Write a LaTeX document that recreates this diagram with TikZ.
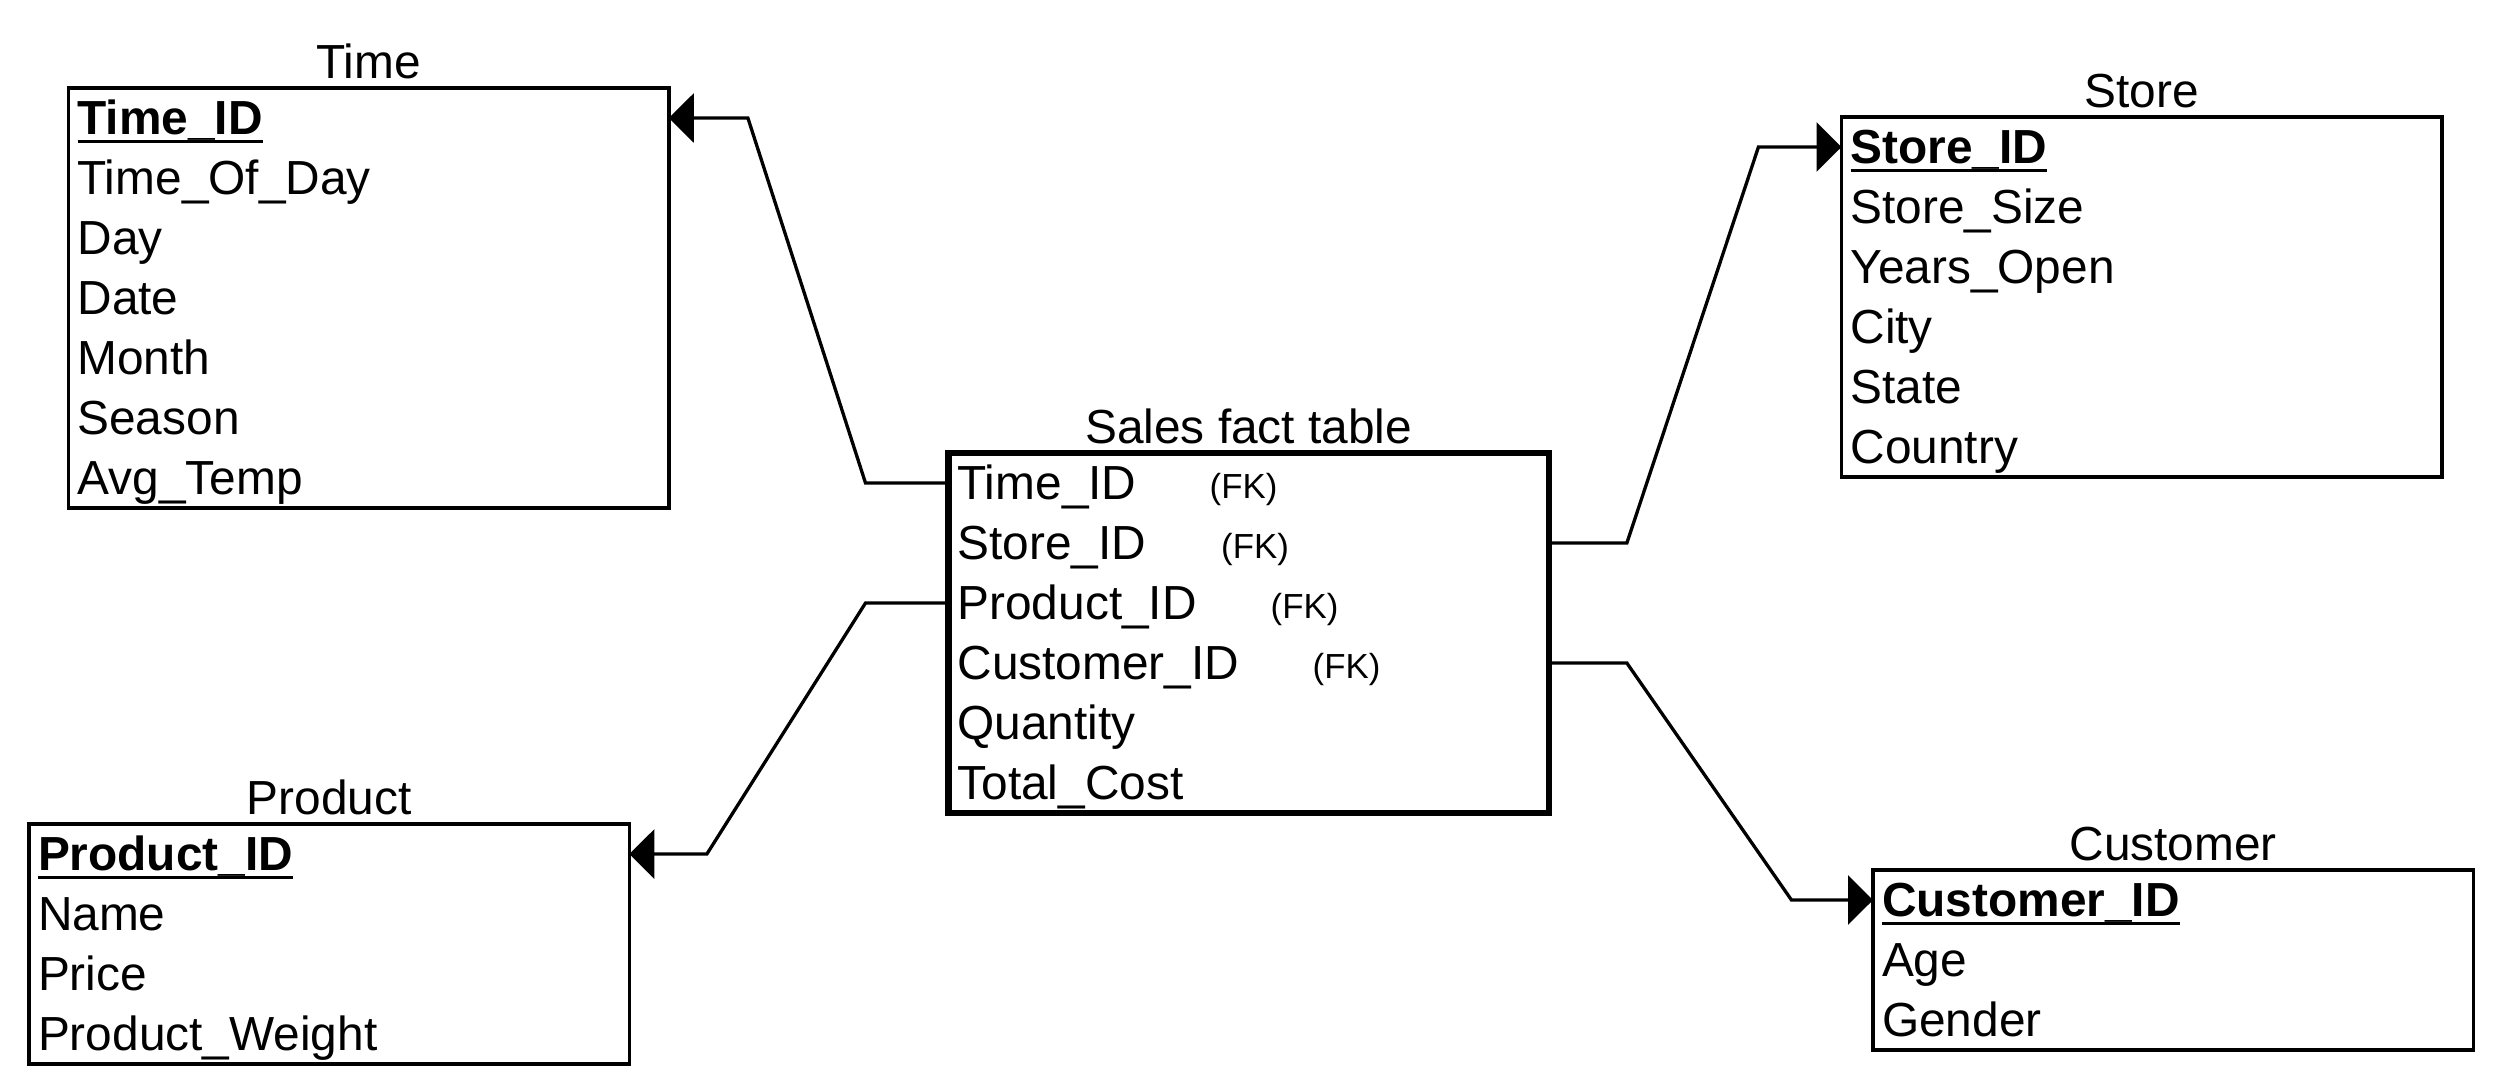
\documentclass[tikz,border=0pt]{standalone}
\usepackage{fontspec}
\setmainfont{Liberation Sans}
\usetikzlibrary{arrows.meta,fit}
\newcommand{\pkul}[1]{\setbox0\hbox{\bfseries #1}\rlap{\rule[-0.092cm]{\wd0}{0.033cm}}\box0}
\tikzset{
  erow/.style={anchor=north west, minimum width=6cm, minimum height=0.6cm,
    text width=5.82cm, align=left, inner xsep=0.09cm, inner ysep=0pt, outer sep=0pt,
    text height=0.4cm, text depth=0.08cm, font=\fontsize{13.6pt}{16pt}\selectfont},
  ebox/.style={draw=black, line width=0.033cm, inner sep=0pt, outer sep=0pt},
  factbox/.style={draw=black, line width=0.067cm, inner sep=0pt, outer sep=0pt},
  etitle/.style={anchor=base, inner sep=0pt, font=\fontsize{13.6pt}{16pt}\selectfont},
  fk/.style={anchor=base west, inner sep=0pt, font=\fontsize{9.9pt}{12pt}\selectfont},
  conn/.style={draw=black, line width=0.033cm, -{Triangle[length=0.25cm,width=0.49cm]}}
}
\begin{document}
\begin{tikzpicture}[x=0.01cm,y=-0.01cm]
\useasboundingbox (0,0) rectangle (2500,1092);
% Time
\node[erow] (t1) at (68.5,88) {\pkul{Time\_ID}};
\node[erow] (t2) at (68.5,148) {Time\_Of\_Day};
\node[erow] (t3) at (68.5,208) {Day};
\node[erow] (t4) at (68.5,268) {Date};
\node[erow] (t5) at (68.5,328) {Month};
\node[erow] (t6) at (68.5,388) {Season};
\node[erow] (t7) at (68.5,448) {Avg\_Temp};
\node[ebox, fit=(t1)(t7)] (timebox) {};
\node[etitle] (timetitle) at ([yshift=0.09cm]timebox.north) {Time};
% Store
\node[erow] (st1) at (1841.5,117) {\pkul{Store\_ID}};
\node[erow] (st2) at (1841.5,177) {Store\_Size};
\node[erow] (st3) at (1841.5,237) {Years\_Open};
\node[erow] (st4) at (1841.5,297) {City};
\node[erow] (st5) at (1841.5,357) {State};
\node[erow] (st6) at (1841.5,417) {Country};
\node[ebox, fit=(st1)(st6)] (storebox) {};
\node[etitle] (storetitle) at ([yshift=0.09cm]storebox.north) {Store};
% Sales
\node[erow] (s1) at (948.5,453) {Time\_ID};
\node[erow] (s2) at (948.5,513) {Store\_ID};
\node[erow] (s3) at (948.5,573) {Product\_ID};
\node[erow] (s4) at (948.5,633) {Customer\_ID};
\node[erow] (s5) at (948.5,693) {Quantity};
\node[erow] (s6) at (948.5,753) {Total\_Cost};
\node[factbox, fit=(s1)(s6)] (salesbox) {};
\node[etitle] (salestitle) at ([yshift=0.09cm]salesbox.north) {Sales fact table};
\node[fk] (fk1) at (1209,499) {(FK)};
\node[fk] (fk2) at (1220.5,559) {(FK)};
\node[fk] (fk3) at (1270,619) {(FK)};
\node[fk] (fk4) at (1312,679) {(FK)};
% Product
\node[erow] (p1) at (29,824) {\pkul{Product\_ID}};
\node[erow] (p2) at (29,884) {Name};
\node[erow] (p3) at (29,944) {Price};
\node[erow] (p4) at (29,1004) {Product\_Weight};
\node[ebox, fit=(p1)(p4)] (productbox) {};
\node[etitle] (producttitle) at ([yshift=0.09cm]productbox.north) {Product};
% Customer
\node[erow] (c1) at (1873,870) {\pkul{Customer\_ID}};
\node[erow] (c2) at (1873,930) {Age};
\node[erow] (c3) at (1873,990) {Gender};
\node[ebox, fit=(c1)(c3)] (customerbox) {};
\node[etitle] (customertitle) at ([yshift=0.09cm]customerbox.north) {Customer};
% connectors
\draw[conn] (s1.west) -- ++(-83,0) -- ([xshift=0.79cm]t1.east) -- (t1.east);
\draw[conn] (s3.west) -- ++(-83,0) -- ([xshift=0.775cm]p1.east) -- (p1.east);
\draw[conn] (s2.east) -- ++(78,0) -- ([xshift=-0.83cm]st1.west) -- (st1.west);
\draw[conn] (s4.east) -- ++(78,0) -- ([xshift=-0.815cm]c1.west) -- (c1.west);
\end{tikzpicture}
\end{document}
